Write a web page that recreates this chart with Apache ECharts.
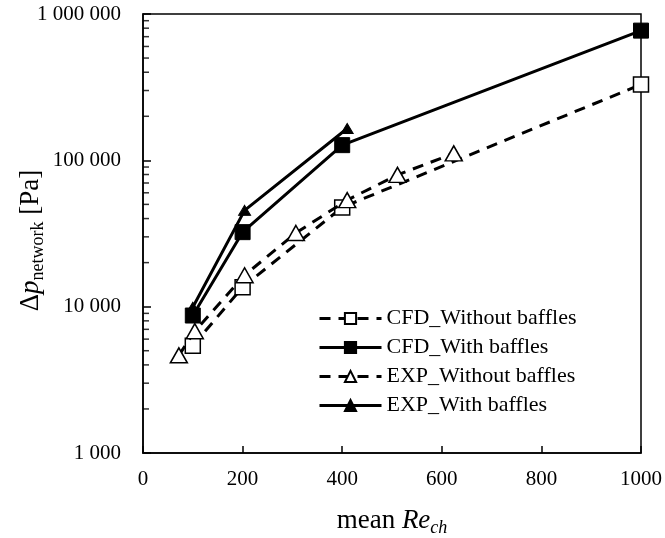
<!DOCTYPE html>
<html>
<head>
<meta charset="utf-8">
<script src="https://cdn.jsdelivr.net/npm/echarts@6/dist/echarts.min.js"></script>
<style>html,body{margin:0;padding:0;background:#fff}#c{width:665px;height:538px}</style>
</head>
<body>
<div id="c"></div>
<script>
// Data
const cfdWithoutX = [100, 200, 400, 1000];
const cfdWithoutY = [5400, 13600, 47700, 330000];
const cfdWithX = [100, 200, 400, 1000];
const cfdWithY = [8700, 32300, 127000, 770000];
const expWithoutX = [72, 104, 204, 307, 410, 511, 624];
const expWithoutY = [4650, 6800, 16400, 31900, 53500, 79500, 111500];
const expWithX = [100, 204, 410];
const expWithY = [9900, 45500, 165000];
const seriesNames = ['CFD_Without baffles', 'CFD_With baffles', 'EXP_Without baffles', 'EXP_With baffles'];
const xTicks = [0, 200, 400, 600, 800, 1000];
const yTicks = [1000, 10000, 100000, 1000000];
const minorTickValues = [2000,3000,4000,5000,6000,7000,8000,9000,
  20000,30000,40000,50000,60000,70000,80000,90000,
  200000,300000,400000,500000,600000,700000,800000,900000];

const zip = (xs, ys) => xs.map((x, i) => [x, ys[i]]);
const fmt = v => String(Math.round(v)).replace(/\B(?=(\d{3})+(?!\d))/g, ' ');
const FONT = '"Liberation Serif", "Times New Roman", serif';

const chart = echarts.init(document.getElementById('c'), null, {renderer: 'canvas'});
const dash = [11, 8];
chart.setOption({
  animation: false,
  backgroundColor: '#fff',
  textStyle: {fontFamily: FONT, color: '#000'},
  grid: {left: 143, right: 24, top: 14, bottom: 85, show: true, borderColor: '#000', borderWidth: 1.5,
    backgroundColor: 'transparent', containLabel: false, outerBoundsMode: 'none'},
  xAxis: {
    type: 'value', min: xTicks[0], max: xTicks[xTicks.length - 1], interval: 200,
    axisLine: {lineStyle: {color: '#000', width: 1.5}},
    axisTick: {inside: true, length: 7, lineStyle: {color: '#000', width: 1.5}},
    splitLine: {show: false},
    axisLabel: {fontFamily: FONT, fontSize: 21, color: '#000', margin: 16, formatter: v => String(v)},
    name: 'mean {i|Re}{s|ch}',
    nameLocation: 'middle', nameGap: 52, nameMoveOverlap: false,
    nameTextStyle: {
      fontFamily: FONT, fontSize: 27, color: '#000',
      rich: {
        i: {fontFamily: FONT, fontSize: 27, fontStyle: 'italic', color: '#000', lineHeight: 32, verticalAlign: 'middle'},
        s: {fontFamily: FONT, fontSize: 18, fontStyle: 'italic', color: '#000', lineHeight: 18, verticalAlign: 'bottom'}
      }
    }
  },
  yAxis: {
    type: 'log', logBase: 10, min: yTicks[0], max: yTicks[yTicks.length - 1],
    axisLine: {lineStyle: {color: '#000', width: 1.5}},
    axisTick: {inside: true, length: 8, lineStyle: {color: '#000', width: 1.5}},
    splitLine: {show: false},
    axisLabel: {fontFamily: FONT, fontSize: 21, color: '#000', margin: 22, formatter: v => fmt(v)},
    name: '{n|Δ}{i|p}{s|network}{n| [Pa]}',
    nameLocation: 'middle', nameGap: 96, nameRotate: 90, nameMoveOverlap: false,
    nameTextStyle: {
      fontFamily: FONT, fontSize: 27, color: '#000', padding: [0, 14, 0, 0],
      rich: {
        n: {fontFamily: FONT, fontSize: 27, color: '#000', lineHeight: 32, verticalAlign: 'middle'},
        i: {fontFamily: FONT, fontSize: 27, fontStyle: 'italic', color: '#000', lineHeight: 32, verticalAlign: 'middle'},
        s: {fontFamily: FONT, fontSize: 18, color: '#000', lineHeight: 18, verticalAlign: 'bottom'}
      }
    }
  },
  legend: {
    data: seriesNames,
    orient: 'vertical', left: 313, top: 302,
    itemWidth: 62, itemHeight: 14, itemGap: 6,
    textStyle: {fontFamily: FONT, fontSize: 22, color: '#000', lineHeight: 23},
    lineStyle: {width: 3}
  },
  series: [
    {
      name: seriesNames[0], type: 'line', data: zip(cfdWithoutX, cfdWithoutY),
      symbol: 'rect', symbolSize: 15,
      lineStyle: {color: '#000', width: 3, type: dash},
      itemStyle: {color: '#fff', borderColor: '#000', borderWidth: 1.5},
      z: 3
    },
    {
      name: seriesNames[1], type: 'line', data: zip(cfdWithX, cfdWithY),
      symbol: 'rect', symbolSize: 15,
      lineStyle: {color: '#000', width: 3},
      itemStyle: {color: '#000', borderColor: '#000', borderWidth: 1},
      z: 3
    },
    {
      name: seriesNames[2], type: 'line', data: zip(expWithoutX, expWithoutY),
      symbol: 'triangle', symbolSize: [17, 15],
      lineStyle: {color: '#000', width: 3, type: dash},
      itemStyle: {color: '#fff', borderColor: '#000', borderWidth: 1.5},
      z: 4
    },
    {
      name: seriesNames[3], type: 'line', data: zip(expWithX, expWithY),
      symbol: 'triangle', symbolSize: [12, 10],
      lineStyle: {color: '#000', width: 3},
      itemStyle: {color: '#000', borderColor: '#000', borderWidth: 1},
      z: 4
    },
    {
      name: 'minorTicks', type: 'scatter', silent: true, clip: false,
      data: minorTickValues.map(v => [0, v]),
      symbol: 'rect', symbolSize: [6, 1.5], symbolOffset: [3, 0],
      itemStyle: {color: '#000'},
      z: 5
    }
  ]
});
</script>
</body>
</html>
